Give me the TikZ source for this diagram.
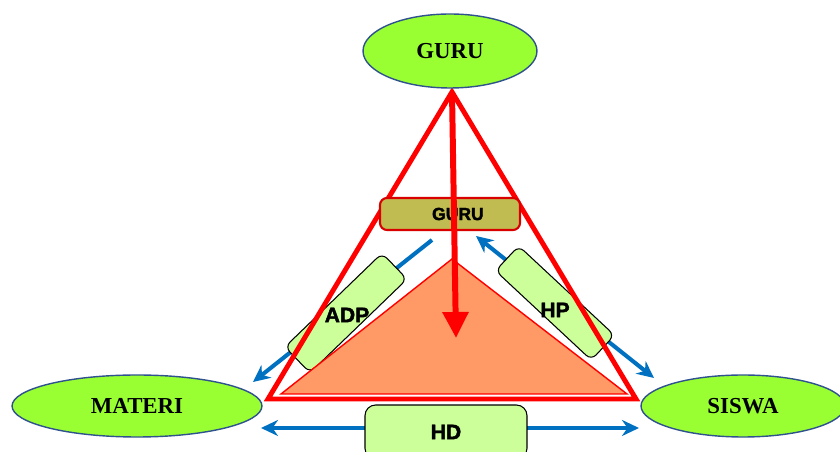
\documentclass[tikz,border=0pt]{standalone}
\usepackage{fontspec}
\setmainfont{Liberation Serif}
\newfontfamily\boxfont[BoldFeatures={FakeBold=2}]{Liberation Sans}
\usetikzlibrary{shapes.geometric,arrows.meta}

\definecolor{limeFill}{HTML}{99FF33}
\definecolor{paleGreen}{HTML}{CCFF99}
\definecolor{ovalLine}{HTML}{2F528F}
\definecolor{arrowBlue}{HTML}{0070C0}
\definecolor{salmon}{HTML}{FF9966}
\definecolor{oliveBar}{HTML}{C0BC52}

\tikzstyle{myOval} = [ellipse, draw=ovalLine, fill=limeFill, line width=0.8pt,
    inner sep=0pt, font=\fontsize{13}{15}\selectfont\bfseries]
\tikzstyle{myBox} = [rectangle, rounded corners=4pt, draw=black, fill=paleGreen,
    line width=0.6pt, inner sep=0pt]
\tikzstyle{myText} = [inner sep=0pt, font=\boxfont\fontsize{12}{14}\selectfont\bfseries]
\tikzstyle{blueOne} = [arrowBlue, line width=2.3pt,
    -{Stealth[length=0.34cm,width=0.32cm]}]
\tikzstyle{blueTwo} = [arrowBlue, line width=2.3pt,
    {Stealth[length=0.34cm,width=0.32cm]}-{Stealth[length=0.34cm,width=0.32cm]}]
\tikzstyle{redEdge} = [red, line width=2.8pt, line join=miter]

\begin{document}
\begin{tikzpicture}[x=0.02cm, y=-0.02cm]

\path[use as bounding box, clip] (0,0) rectangle (840,452);

\coordinate (apex) at (452,92);
\coordinate (leftCorner) at (268,399);
\coordinate (rightCorner) at (636,399);
\coordinate (arrowTip) at (456,338);

% blue arrows behind the boxes
\coordinate (adpStart) at (432,240);
\coordinate (adpEnd) at (253,382);
\coordinate (hpStart) at (476,236);
\coordinate (hpEnd) at (654,378);
\coordinate (hdStart) at (261,428);
\coordinate (hdEnd) at (639,428);
\draw[blueOne] (adpStart) -- (adpEnd);
\draw[blueTwo] (hpStart) -- (hpEnd);
\draw[blueTwo] (hdStart) -- (hdEnd);

\node[myBox, minimum width=2.7cm, minimum height=0.72cm, rotate=44] (adpBox) at (346,313) {};
\node[myText] (adp) at (347,315) {ADP};
\node[myBox, minimum width=2.62cm, minimum height=0.68cm, rotate=-43] (hpBox) at (555,303) {};
\node[myText] (hp) at (555,310) {HP};
\node[myBox, myText, rounded corners=6pt, minimum width=3.24cm, minimum height=1.08cm] (hd) at (446,432) {HD};

% inner triangle
\coordinate (innerTop) at (452,259);
\coordinate (innerLeft) at (281,394);
\coordinate (innerRight) at (627,394);
\draw[red, line width=0.8pt, fill=salmon] (innerTop) -- (innerLeft) -- (innerRight) -- cycle;

\draw[redEdge] (apex) -- (leftCorner) -- (rightCorner) -- cycle;

\node[rectangle, rounded corners=4pt, fill=oliveBar, draw=red!85!black, line width=1.2pt,
    minimum width=2.8cm, minimum height=0.64cm, inner sep=0pt,
    font=\boxfont\fontsize{10}{12}\selectfont\bfseries] (guruBar) at (450,214) {\hspace*{9pt}GURU};

\draw[red, line width=3.4pt, -{Triangle[length=0.52cm,width=0.5cm]}] (apex) -- (arrowTip);

\node[myOval, minimum width=3.48cm, minimum height=1.48cm] (guru) at (450,51) {GURU};
\node[myOval, minimum width=5cm, minimum height=1.24cm] (materi) at (137,406) {MATERI};
\node[myOval, minimum width=4.08cm, minimum height=1.24cm] (siswa) at (743,406) {SISWA};
\end{tikzpicture}
\end{document}
